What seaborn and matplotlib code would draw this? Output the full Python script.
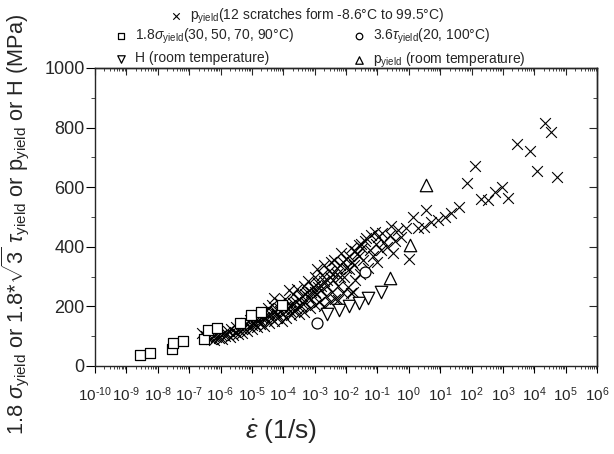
import numpy as np
import pandas as pd
import matplotlib
matplotlib.use("Agg")
import matplotlib.pyplot as plt
import seaborn as sns
from matplotlib.ticker import LogLocator, FuncFormatter, NullFormatter, MultipleLocator

# ---------------- data (log10 of strain rate in 1/s, stress in MPa) ----------------
cross_log_rate = [
    -6.6, -6.45, -6.3, -6.25, -6.2, -6.15, -6.05, -6.0, -5.95, -5.9, -5.85,
    -5.8, -5.75, -5.7, -5.65, -5.6, -5.55, -5.5, -5.45, -5.4, -5.35, -5.3, -5.25, -5.2,
    -5.15, -5.1, -5.05, -5.0, -4.95, -4.9, -4.85, -4.8, -4.75, -4.7, -4.65, -4.6, -4.55, -4.5,
    -4.45, -4.4, -4.35, -4.3, -4.28, -4.25, -4.2, -4.15, -4.1, -4.05, -4.0, -3.95, -3.9, -3.85,
    -3.81, -3.8, -3.75, -3.7, -3.65, -3.6, -3.55, -3.5, -3.45, -3.4, -3.35, -3.33, -3.3, -3.25,
    -3.2, -3.15, -3.1, -3.05, -3.0, -3.0, -2.95, -2.91, -2.9, -2.85, -2.8, -2.75, -2.7, -2.7,
    -2.65, -2.6, -2.55, -2.5, -2.48, -2.45, -2.4, -2.37, -2.35, -2.3, -2.27, -2.25, -2.2, -2.15,
    -2.1, -2.05, -2.0, -1.95, -1.9, -1.85, -1.84, -1.79, -1.75, -1.7, -1.65, -1.6, -1.55, -1.52,
    -1.45, -1.41, -1.36, -1.3, -1.25, -1.2, -1.15, -1.09, -1.05, -1.0, -0.99, -0.9, -0.85, -0.78,
    -0.7, -0.6, -0.56, -0.51, -0.45, -0.35, -0.24, -0.08, 0.02, 0.13, 0.31, 0.5, 0.56, 0.72,
    0.93, 1.15, 1.36, 1.6, 1.87, 2.11, 2.3, 2.53, 2.75, 2.96, 3.17, 3.44, 3.87, 4.08, 4.33, 4.54, 4.72,
    -5.3, -5.0, -4.8, -4.6, -4.4, -4.2, -4.0, -3.8, -3.6, -3.4, -3.2, -3.0, -2.8, -2.6, -2.4, -2.2, -2.0, -1.8, -1.6,
    -4.9, -4.7, -4.5, -4.3, -4.1, -3.9, -3.7, -3.5, -3.3, -3.1, -2.9, -2.7, -2.5, -2.3, -2.1, -1.9, -1.7, -1.5,
]
cross_p = [
    112, 100, 92, 100, 88, 97, 95, 105, 90, 112, 100,
    108, 118, 96, 125, 104, 114, 130, 108, 120, 140, 112, 128, 145,
    118, 135, 155, 125, 145, 162, 130, 170, 140, 152, 180, 135, 160, 195,
    145, 172, 205, 150, 227, 185, 160, 195, 210, 150, 175, 225, 160, 190,
    255, 205, 170, 240, 185, 215, 258, 175, 200, 235, 270, 180, 215, 250,
    285, 195, 225, 265, 300, 205, 240, 327, 280, 215, 255, 305, 339, 200,
    235, 270, 320, 215, 350, 250, 290, 356, 225, 310, 221, 270, 340, 380,
    245, 300, 360, 265, 325, 395, 244, 249, 340, 290, 375, 405, 310, 411,
    355, 420, 428, 330, 390, 440, 370, 451, 410, 350, 434, 390, 445, 417,
    400, 440, 470, 378, 420, 455, 434, 463, 358, 501, 462, 467, 523, 484,
    490, 501, 512, 535, 613, 671, 559, 557, 585, 600, 563, 744, 723, 654, 816, 786, 635,
    125, 138, 150, 165, 160, 175, 190, 185, 195, 210, 230, 250, 270, 290, 310, 300, 330, 350, 370,
    140, 165, 170, 180, 185, 200, 210, 225, 240, 250, 265, 285, 300, 330, 350, 370, 385, 395,
]

square_log_rate = [-8.56, -8.26, -7.55, -7.51, -7.21, -6.51, -6.41, -6.10, -5.39, -5.03, -4.72, -4.03]
square_s = [37, 43, 56, 78, 83, 91, 121, 129, 145, 172, 181, 206]

circle_log_rate = [-2.93, -1.39]
circle_t = [143, 316]

down_log_rate = [-2.59, -2.22, -1.92, -1.60, -1.31, -0.90]
down_h = [174, 188, 200, 210, 228, 249]

up_log_rate = [-0.61, 0.03, 0.56]
up_p = [296, 406, 607]

x_exponents = list(range(-10, 7))

label_cross = r"p$_{\mathregular{yield}}$(12 scratches form -8.6°C to 99.5°C)"
label_square = r"1.8$\sigma_{\mathregular{yield}}$(30, 50, 70, 90°C)"
label_circle = r"3.6$\tau_{\mathregular{yield}}$(20, 100°C)"
label_down = "H (room temperature)"
label_up = r"p$_{\mathregular{yield}}$ (room temperature)"

# ---------------- style ----------------
sns.set_theme(style="ticks")
plt.rcParams["font.family"] = ["Liberation Sans", "DejaVu Sans"]
plt.rcParams["mathtext.fontset"] = "custom"
plt.rcParams["mathtext.rm"] = "Liberation Sans"
plt.rcParams["mathtext.it"] = "Liberation Sans:italic"
plt.rcParams["mathtext.bf"] = "Liberation Sans:bold"
plt.rcParams["mathtext.sf"] = "Liberation Sans"
plt.rcParams["axes.linewidth"] = 1.0

W, H = 614, 454
fig = plt.figure(figsize=(W / 100, H / 100), dpi=100)
ax = fig.add_axes([95 / W, 88 / H, 502 / W, 298 / H])

df_cross = pd.DataFrame({"rate": np.power(10.0, cross_log_rate), "val": cross_p})
df_sq = pd.DataFrame({"rate": np.power(10.0, square_log_rate), "val": square_s})
df_ci = pd.DataFrame({"rate": np.power(10.0, circle_log_rate), "val": circle_t})
df_dn = pd.DataFrame({"rate": np.power(10.0, down_log_rate), "val": down_h})
df_up = pd.DataFrame({"rate": np.power(10.0, up_log_rate), "val": up_p})

sns.scatterplot(data=df_cross, x="rate", y="val", marker="x", s=60, color="black",
                linewidth=0.8, ax=ax, legend=False, zorder=3)
hollow = dict(facecolor="white", edgecolor="black", linewidth=0.9, legend=False, zorder=4)
sns.scatterplot(data=df_sq, x="rate", y="val", marker="s", s=62, ax=ax, **hollow)
sns.scatterplot(data=df_ci, x="rate", y="val", marker="o", s=62, ax=ax, **hollow)
sns.scatterplot(data=df_dn, x="rate", y="val", marker="v", s=80, ax=ax, **hollow)
sns.scatterplot(data=df_up, x="rate", y="val", marker="^", s=80, ax=ax, **hollow)

h_cross, h_sq, h_ci, h_dn, h_up = ax.collections[:5]

ax.set_xscale("log")
ax.set_xlim(10.0 ** x_exponents[0], 10.0 ** x_exponents[-1])
ax.set_ylim(0, 1000)


def decade_label(v, pos):
    e = int(round(np.log10(v)))
    return r"$\mathregular{10^{\text{%d}}}$" % e


ax.xaxis.set_major_locator(LogLocator(base=10, numticks=40))
ax.xaxis.set_major_formatter(FuncFormatter(decade_label))
ax.xaxis.set_minor_locator(LogLocator(base=10, subs=np.arange(2, 10), numticks=200))
ax.xaxis.set_minor_formatter(NullFormatter())
ax.yaxis.set_major_locator(MultipleLocator(200))
ax.yaxis.set_minor_locator(MultipleLocator(100))

ax.tick_params(axis="both", which="major", direction="out", width=0.8, color="black")
ax.tick_params(axis="x", which="major", length=5, labelsize=11, pad=9)
ax.tick_params(axis="x", which="minor", direction="out", length=2.5, width=0.6)
ax.tick_params(axis="y", which="major", length=6.5, labelsize=13, pad=1)
ax.tick_params(axis="y", which="minor", direction="out", length=3, width=0.6)

# mirrored inward ticks on top / right
secx = ax.secondary_xaxis("top")
secx.xaxis.set_major_locator(LogLocator(base=10, numticks=40))
secx.xaxis.set_minor_locator(LogLocator(base=10, subs=np.arange(2, 10), numticks=200))
secx.xaxis.set_major_formatter(NullFormatter())
secx.xaxis.set_minor_formatter(NullFormatter())
secx.tick_params(which="major", direction="in", length=5, width=0.8)
secx.tick_params(which="minor", direction="in", length=2.5, width=0.6)
secy = ax.secondary_yaxis("right")
secy.yaxis.set_major_locator(MultipleLocator(200))
secy.yaxis.set_minor_locator(MultipleLocator(100))
secy.yaxis.set_major_formatter(NullFormatter())
secy.tick_params(which="major", direction="in", length=5.5, width=0.8)
secy.tick_params(which="minor", direction="in", length=3, width=0.6)

ax.set_xlabel(r"$\dot{\varepsilon}$ (1/s)", fontsize=19)
ax.xaxis.set_label_coords(0.37, -0.17)
ax.set_ylabel(r"1.8 $\sigma_{\mathregular{yield}}$ or 1.8*$\sqrt{3}$ $\tau_{\mathregular{yield}}$ or "
              r"p$_{\mathregular{yield}}$ or H (MPa)", fontsize=15.7)
ax.yaxis.set_label_coords(-0.125, 0.475)

leg_kw = dict(frameon=False, fontsize=10, handlelength=0.8, handletextpad=0.6,
              borderpad=0, borderaxespad=0, markerscale=0.6, loc="upper left")
fig.legend([h_cross], [label_cross], bbox_to_anchor=(170.5 / W, 1 - 7 / H), **leg_kw)
fig.legend([h_sq, h_dn, h_ci, h_up], [label_square, label_down, label_circle, label_up],
           ncol=2, columnspacing=4.3, labelspacing=0.35,
           bbox_to_anchor=(115.5 / W, 1 - 27 / H), **leg_kw)

fig.savefig("out.png", dpi=100)
